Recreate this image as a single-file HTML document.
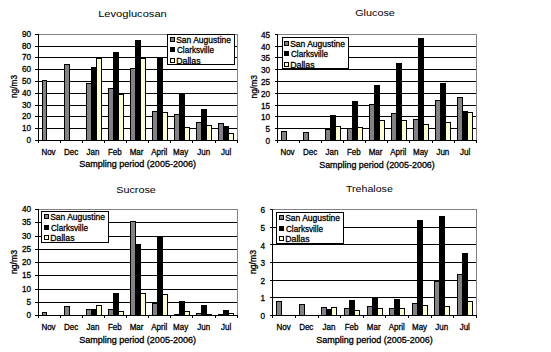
<!DOCTYPE html>
<html><head><meta charset="utf-8"><style>
html,body{margin:0;padding:0;background:#fff;}
body{width:551px;height:352px;overflow:hidden;}
svg{display:block;}
text{font-family:"Liberation Sans", sans-serif;fill:#000;}
text.b{stroke:#000;stroke-width:0.3px;}
</style></head><body>
<svg width="551" height="352" viewBox="0 0 551 352">
<g shape-rendering="crispEdges">
<rect x="0" y="0" width="551" height="352" fill="#fff"/>
</g>
<g shape-rendering="crispEdges">
<rect x="38" y="140" width="200" height="1" fill="#000"/>
<rect x="38" y="128" width="200" height="1" fill="#000"/>
<rect x="38" y="116" width="200" height="1" fill="#000"/>
<rect x="38" y="105" width="200" height="1" fill="#000"/>
<rect x="38" y="93" width="200" height="1" fill="#000"/>
<rect x="38" y="81" width="200" height="1" fill="#000"/>
<rect x="38" y="69" width="200" height="1" fill="#000"/>
<rect x="38" y="57" width="200" height="1" fill="#000"/>
<rect x="38" y="46" width="200" height="1" fill="#000"/>
<rect x="38" y="34" width="200" height="1" fill="#858085"/>
<rect x="237" y="34" width="1" height="107" fill="#858085"/>
<rect x="42" y="80" width="5" height="61" fill="#000"/>
<rect x="43" y="81" width="3" height="59" fill="#858085"/>
<rect x="64" y="64" width="6" height="77" fill="#000"/>
<rect x="65" y="65" width="4" height="75" fill="#858085"/>
<rect x="86" y="83" width="6" height="58" fill="#000"/>
<rect x="87" y="84" width="4" height="56" fill="#858085"/>
<rect x="91" y="67" width="6" height="74" fill="#000"/>
<rect x="96" y="58" width="6" height="83" fill="#000"/>
<rect x="97" y="59" width="4" height="81" fill="#FFFFCC"/>
<rect x="108" y="88" width="6" height="53" fill="#000"/>
<rect x="109" y="89" width="4" height="51" fill="#858085"/>
<rect x="113" y="52" width="6" height="89" fill="#000"/>
<rect x="118" y="94" width="6" height="47" fill="#000"/>
<rect x="119" y="95" width="4" height="45" fill="#FFFFCC"/>
<rect x="130" y="68" width="6" height="73" fill="#000"/>
<rect x="131" y="69" width="4" height="71" fill="#858085"/>
<rect x="135" y="40" width="6" height="101" fill="#000"/>
<rect x="140" y="58" width="6" height="83" fill="#000"/>
<rect x="141" y="59" width="4" height="81" fill="#FFFFCC"/>
<rect x="152" y="111" width="6" height="30" fill="#000"/>
<rect x="153" y="112" width="4" height="28" fill="#858085"/>
<rect x="157" y="58" width="6" height="83" fill="#000"/>
<rect x="162" y="112" width="6" height="29" fill="#000"/>
<rect x="163" y="113" width="4" height="27" fill="#FFFFCC"/>
<rect x="174" y="114" width="6" height="27" fill="#000"/>
<rect x="175" y="115" width="4" height="25" fill="#858085"/>
<rect x="179" y="93" width="6" height="48" fill="#000"/>
<rect x="184" y="127" width="6" height="14" fill="#000"/>
<rect x="185" y="128" width="4" height="12" fill="#FFFFCC"/>
<rect x="196" y="122" width="6" height="19" fill="#000"/>
<rect x="197" y="123" width="4" height="17" fill="#858085"/>
<rect x="201" y="109" width="6" height="32" fill="#000"/>
<rect x="206" y="125" width="6" height="16" fill="#000"/>
<rect x="207" y="126" width="4" height="14" fill="#FFFFCC"/>
<rect x="218" y="123" width="6" height="18" fill="#000"/>
<rect x="219" y="124" width="4" height="16" fill="#858085"/>
<rect x="223" y="126" width="6" height="15" fill="#000"/>
<rect x="228" y="133" width="6" height="8" fill="#000"/>
<rect x="229" y="134" width="4" height="6" fill="#FFFFCC"/>
<rect x="38" y="34" width="1" height="109" fill="#000"/>
<rect x="38" y="140" width="200" height="1" fill="#000"/>
<rect x="35" y="140" width="3" height="1" fill="#000"/>
<rect x="35" y="128" width="3" height="1" fill="#000"/>
<rect x="35" y="116" width="3" height="1" fill="#000"/>
<rect x="35" y="105" width="3" height="1" fill="#000"/>
<rect x="35" y="93" width="3" height="1" fill="#000"/>
<rect x="35" y="81" width="3" height="1" fill="#000"/>
<rect x="35" y="69" width="3" height="1" fill="#000"/>
<rect x="35" y="57" width="3" height="1" fill="#000"/>
<rect x="35" y="46" width="3" height="1" fill="#000"/>
<rect x="35" y="34" width="3" height="1" fill="#000"/>
<rect x="38" y="141" width="1" height="2" fill="#000"/>
<rect x="60" y="141" width="1" height="2" fill="#000"/>
<rect x="82" y="141" width="1" height="2" fill="#000"/>
<rect x="104" y="141" width="1" height="2" fill="#000"/>
<rect x="126" y="141" width="1" height="2" fill="#000"/>
<rect x="148" y="141" width="1" height="2" fill="#000"/>
<rect x="170" y="141" width="1" height="2" fill="#000"/>
<rect x="192" y="141" width="1" height="2" fill="#000"/>
<rect x="215" y="141" width="1" height="2" fill="#000"/>
<rect x="237" y="141" width="1" height="2" fill="#000"/>
<rect x="167" y="34" width="68" height="31" fill="#000"/>
<rect x="168" y="35" width="66" height="29" fill="#fff"/>
<rect x="170" y="37" width="5" height="5" fill="#000"/>
<rect x="171" y="38" width="3" height="3" fill="#858085"/>
<rect x="170" y="47" width="5" height="5" fill="#000"/>
<rect x="170" y="58" width="5" height="5" fill="#000"/>
<rect x="171" y="59" width="3" height="3" fill="#FFFFCC"/>
<rect x="277" y="140" width="200" height="1" fill="#000"/>
<rect x="277" y="128" width="200" height="1" fill="#000"/>
<rect x="277" y="116" width="200" height="1" fill="#000"/>
<rect x="277" y="105" width="200" height="1" fill="#000"/>
<rect x="277" y="93" width="200" height="1" fill="#000"/>
<rect x="277" y="81" width="200" height="1" fill="#000"/>
<rect x="277" y="69" width="200" height="1" fill="#000"/>
<rect x="277" y="57" width="200" height="1" fill="#000"/>
<rect x="277" y="46" width="200" height="1" fill="#000"/>
<rect x="277" y="34" width="200" height="1" fill="#858085"/>
<rect x="476" y="34" width="1" height="107" fill="#858085"/>
<rect x="281" y="131" width="6" height="10" fill="#000"/>
<rect x="282" y="132" width="4" height="8" fill="#858085"/>
<rect x="303" y="132" width="6" height="9" fill="#000"/>
<rect x="304" y="133" width="4" height="7" fill="#858085"/>
<rect x="325" y="129" width="6" height="12" fill="#000"/>
<rect x="326" y="130" width="4" height="10" fill="#858085"/>
<rect x="330" y="115" width="6" height="26" fill="#000"/>
<rect x="335" y="126" width="6" height="15" fill="#000"/>
<rect x="336" y="127" width="4" height="13" fill="#FFFFCC"/>
<rect x="347" y="128" width="6" height="13" fill="#000"/>
<rect x="348" y="129" width="4" height="11" fill="#858085"/>
<rect x="352" y="101" width="6" height="40" fill="#000"/>
<rect x="357" y="127" width="6" height="14" fill="#000"/>
<rect x="358" y="128" width="4" height="12" fill="#FFFFCC"/>
<rect x="369" y="104" width="6" height="37" fill="#000"/>
<rect x="370" y="105" width="4" height="35" fill="#858085"/>
<rect x="374" y="85" width="6" height="56" fill="#000"/>
<rect x="379" y="120" width="6" height="21" fill="#000"/>
<rect x="380" y="121" width="4" height="19" fill="#FFFFCC"/>
<rect x="391" y="113" width="6" height="28" fill="#000"/>
<rect x="392" y="114" width="4" height="26" fill="#858085"/>
<rect x="396" y="63" width="6" height="78" fill="#000"/>
<rect x="401" y="120" width="6" height="21" fill="#000"/>
<rect x="402" y="121" width="4" height="19" fill="#FFFFCC"/>
<rect x="413" y="119" width="6" height="22" fill="#000"/>
<rect x="414" y="120" width="4" height="20" fill="#858085"/>
<rect x="418" y="38" width="6" height="103" fill="#000"/>
<rect x="423" y="124" width="6" height="17" fill="#000"/>
<rect x="424" y="125" width="4" height="15" fill="#FFFFCC"/>
<rect x="435" y="100" width="6" height="41" fill="#000"/>
<rect x="436" y="101" width="4" height="39" fill="#858085"/>
<rect x="440" y="83" width="6" height="58" fill="#000"/>
<rect x="445" y="122" width="6" height="19" fill="#000"/>
<rect x="446" y="123" width="4" height="17" fill="#FFFFCC"/>
<rect x="457" y="97" width="6" height="44" fill="#000"/>
<rect x="458" y="98" width="4" height="42" fill="#858085"/>
<rect x="462" y="111" width="6" height="30" fill="#000"/>
<rect x="467" y="112" width="6" height="29" fill="#000"/>
<rect x="468" y="113" width="4" height="27" fill="#FFFFCC"/>
<rect x="277" y="34" width="1" height="109" fill="#000"/>
<rect x="277" y="140" width="200" height="1" fill="#000"/>
<rect x="275" y="140" width="2" height="1" fill="#000"/>
<rect x="275" y="128" width="2" height="1" fill="#000"/>
<rect x="275" y="116" width="2" height="1" fill="#000"/>
<rect x="275" y="105" width="2" height="1" fill="#000"/>
<rect x="275" y="93" width="2" height="1" fill="#000"/>
<rect x="275" y="81" width="2" height="1" fill="#000"/>
<rect x="275" y="69" width="2" height="1" fill="#000"/>
<rect x="275" y="57" width="2" height="1" fill="#000"/>
<rect x="275" y="46" width="2" height="1" fill="#000"/>
<rect x="275" y="34" width="2" height="1" fill="#000"/>
<rect x="277" y="141" width="1" height="2" fill="#000"/>
<rect x="299" y="141" width="1" height="2" fill="#000"/>
<rect x="321" y="141" width="1" height="2" fill="#000"/>
<rect x="343" y="141" width="1" height="2" fill="#000"/>
<rect x="365" y="141" width="1" height="2" fill="#000"/>
<rect x="387" y="141" width="1" height="2" fill="#000"/>
<rect x="409" y="141" width="1" height="2" fill="#000"/>
<rect x="432" y="141" width="1" height="2" fill="#000"/>
<rect x="454" y="141" width="1" height="2" fill="#000"/>
<rect x="476" y="141" width="1" height="2" fill="#000"/>
<rect x="282" y="37" width="67" height="32" fill="#000"/>
<rect x="283" y="38" width="65" height="30" fill="#fff"/>
<rect x="284" y="41" width="5" height="5" fill="#000"/>
<rect x="285" y="42" width="3" height="3" fill="#858085"/>
<rect x="284" y="51" width="5" height="5" fill="#000"/>
<rect x="284" y="62" width="5" height="5" fill="#000"/>
<rect x="285" y="63" width="3" height="3" fill="#FFFFCC"/>
<rect x="38" y="315" width="200" height="1" fill="#000"/>
<rect x="38" y="302" width="200" height="1" fill="#000"/>
<rect x="38" y="289" width="200" height="1" fill="#000"/>
<rect x="38" y="275" width="200" height="1" fill="#000"/>
<rect x="38" y="262" width="200" height="1" fill="#000"/>
<rect x="38" y="249" width="200" height="1" fill="#000"/>
<rect x="38" y="236" width="200" height="1" fill="#000"/>
<rect x="38" y="222" width="200" height="1" fill="#000"/>
<rect x="38" y="209" width="200" height="1" fill="#858085"/>
<rect x="237" y="209" width="1" height="107" fill="#858085"/>
<rect x="42" y="312" width="5" height="4" fill="#000"/>
<rect x="43" y="313" width="3" height="2" fill="#858085"/>
<rect x="64" y="306" width="6" height="10" fill="#000"/>
<rect x="65" y="307" width="4" height="8" fill="#858085"/>
<rect x="86" y="309" width="6" height="7" fill="#000"/>
<rect x="87" y="310" width="4" height="5" fill="#858085"/>
<rect x="91" y="309" width="6" height="7" fill="#000"/>
<rect x="96" y="305" width="6" height="11" fill="#000"/>
<rect x="97" y="306" width="4" height="9" fill="#FFFFCC"/>
<rect x="108" y="309" width="6" height="7" fill="#000"/>
<rect x="109" y="310" width="4" height="5" fill="#858085"/>
<rect x="113" y="293" width="6" height="23" fill="#000"/>
<rect x="118" y="311" width="6" height="5" fill="#000"/>
<rect x="119" y="312" width="4" height="3" fill="#FFFFCC"/>
<rect x="130" y="221" width="6" height="95" fill="#000"/>
<rect x="131" y="222" width="4" height="93" fill="#858085"/>
<rect x="135" y="244" width="6" height="72" fill="#000"/>
<rect x="140" y="293" width="6" height="23" fill="#000"/>
<rect x="141" y="294" width="4" height="21" fill="#FFFFCC"/>
<rect x="152" y="303" width="6" height="13" fill="#000"/>
<rect x="153" y="304" width="4" height="11" fill="#858085"/>
<rect x="157" y="237" width="6" height="79" fill="#000"/>
<rect x="162" y="294" width="6" height="22" fill="#000"/>
<rect x="163" y="295" width="4" height="20" fill="#FFFFCC"/>
<rect x="174" y="314" width="6" height="2" fill="#000"/>
<rect x="179" y="301" width="6" height="15" fill="#000"/>
<rect x="184" y="311" width="6" height="5" fill="#000"/>
<rect x="185" y="312" width="4" height="3" fill="#FFFFCC"/>
<rect x="196" y="313" width="6" height="3" fill="#000"/>
<rect x="197" y="314" width="4" height="1" fill="#858085"/>
<rect x="201" y="305" width="6" height="11" fill="#000"/>
<rect x="206" y="314" width="6" height="2" fill="#000"/>
<rect x="218" y="314" width="6" height="2" fill="#000"/>
<rect x="223" y="310" width="6" height="6" fill="#000"/>
<rect x="228" y="313" width="6" height="3" fill="#000"/>
<rect x="229" y="314" width="4" height="1" fill="#FFFFCC"/>
<rect x="38" y="209" width="1" height="109" fill="#000"/>
<rect x="38" y="315" width="200" height="1" fill="#000"/>
<rect x="35" y="315" width="3" height="1" fill="#000"/>
<rect x="35" y="302" width="3" height="1" fill="#000"/>
<rect x="35" y="289" width="3" height="1" fill="#000"/>
<rect x="35" y="275" width="3" height="1" fill="#000"/>
<rect x="35" y="262" width="3" height="1" fill="#000"/>
<rect x="35" y="249" width="3" height="1" fill="#000"/>
<rect x="35" y="236" width="3" height="1" fill="#000"/>
<rect x="35" y="222" width="3" height="1" fill="#000"/>
<rect x="35" y="209" width="3" height="1" fill="#000"/>
<rect x="38" y="316" width="1" height="2" fill="#000"/>
<rect x="60" y="316" width="1" height="2" fill="#000"/>
<rect x="82" y="316" width="1" height="2" fill="#000"/>
<rect x="104" y="316" width="1" height="2" fill="#000"/>
<rect x="126" y="316" width="1" height="2" fill="#000"/>
<rect x="148" y="316" width="1" height="2" fill="#000"/>
<rect x="170" y="316" width="1" height="2" fill="#000"/>
<rect x="192" y="316" width="1" height="2" fill="#000"/>
<rect x="215" y="316" width="1" height="2" fill="#000"/>
<rect x="237" y="316" width="1" height="2" fill="#000"/>
<rect x="41" y="211" width="68" height="32" fill="#000"/>
<rect x="42" y="212" width="66" height="30" fill="#fff"/>
<rect x="44" y="214" width="5" height="5" fill="#000"/>
<rect x="45" y="215" width="3" height="3" fill="#858085"/>
<rect x="44" y="225" width="5" height="5" fill="#000"/>
<rect x="44" y="235" width="5" height="5" fill="#000"/>
<rect x="45" y="236" width="3" height="3" fill="#FFFFCC"/>
<rect x="272" y="315" width="205" height="1" fill="#000"/>
<rect x="272" y="297" width="205" height="1" fill="#000"/>
<rect x="272" y="280" width="205" height="1" fill="#000"/>
<rect x="272" y="262" width="205" height="1" fill="#000"/>
<rect x="272" y="244" width="205" height="1" fill="#000"/>
<rect x="272" y="227" width="205" height="1" fill="#000"/>
<rect x="272" y="209" width="205" height="1" fill="#858085"/>
<rect x="476" y="209" width="1" height="107" fill="#858085"/>
<rect x="276" y="301" width="6" height="15" fill="#000"/>
<rect x="277" y="302" width="4" height="13" fill="#858085"/>
<rect x="299" y="304" width="6" height="12" fill="#000"/>
<rect x="300" y="305" width="4" height="10" fill="#858085"/>
<rect x="321" y="307" width="6" height="9" fill="#000"/>
<rect x="322" y="308" width="4" height="7" fill="#858085"/>
<rect x="326" y="309" width="6" height="7" fill="#000"/>
<rect x="331" y="307" width="6" height="9" fill="#000"/>
<rect x="332" y="308" width="4" height="7" fill="#FFFFCC"/>
<rect x="344" y="308" width="6" height="8" fill="#000"/>
<rect x="345" y="309" width="4" height="6" fill="#858085"/>
<rect x="349" y="300" width="6" height="16" fill="#000"/>
<rect x="354" y="310" width="6" height="6" fill="#000"/>
<rect x="355" y="311" width="4" height="4" fill="#FFFFCC"/>
<rect x="367" y="306" width="6" height="10" fill="#000"/>
<rect x="368" y="307" width="4" height="8" fill="#858085"/>
<rect x="372" y="297" width="6" height="19" fill="#000"/>
<rect x="377" y="308" width="6" height="8" fill="#000"/>
<rect x="378" y="309" width="4" height="6" fill="#FFFFCC"/>
<rect x="389" y="308" width="6" height="8" fill="#000"/>
<rect x="390" y="309" width="4" height="6" fill="#858085"/>
<rect x="394" y="299" width="6" height="17" fill="#000"/>
<rect x="399" y="308" width="6" height="8" fill="#000"/>
<rect x="400" y="309" width="4" height="6" fill="#FFFFCC"/>
<rect x="412" y="303" width="6" height="13" fill="#000"/>
<rect x="413" y="304" width="4" height="11" fill="#858085"/>
<rect x="417" y="220" width="6" height="96" fill="#000"/>
<rect x="422" y="305" width="6" height="11" fill="#000"/>
<rect x="423" y="306" width="4" height="9" fill="#FFFFCC"/>
<rect x="434" y="281" width="6" height="35" fill="#000"/>
<rect x="435" y="282" width="4" height="33" fill="#858085"/>
<rect x="439" y="216" width="6" height="100" fill="#000"/>
<rect x="444" y="306" width="6" height="10" fill="#000"/>
<rect x="445" y="307" width="4" height="8" fill="#FFFFCC"/>
<rect x="457" y="274" width="6" height="42" fill="#000"/>
<rect x="458" y="275" width="4" height="40" fill="#858085"/>
<rect x="462" y="253" width="6" height="63" fill="#000"/>
<rect x="467" y="301" width="6" height="15" fill="#000"/>
<rect x="468" y="302" width="4" height="13" fill="#FFFFCC"/>
<rect x="272" y="209" width="1" height="109" fill="#000"/>
<rect x="272" y="315" width="205" height="1" fill="#000"/>
<rect x="270" y="315" width="2" height="1" fill="#000"/>
<rect x="270" y="297" width="2" height="1" fill="#000"/>
<rect x="270" y="280" width="2" height="1" fill="#000"/>
<rect x="270" y="262" width="2" height="1" fill="#000"/>
<rect x="270" y="244" width="2" height="1" fill="#000"/>
<rect x="270" y="227" width="2" height="1" fill="#000"/>
<rect x="270" y="209" width="2" height="1" fill="#000"/>
<rect x="272" y="316" width="1" height="2" fill="#000"/>
<rect x="295" y="316" width="1" height="2" fill="#000"/>
<rect x="318" y="316" width="1" height="2" fill="#000"/>
<rect x="340" y="316" width="1" height="2" fill="#000"/>
<rect x="363" y="316" width="1" height="2" fill="#000"/>
<rect x="385" y="316" width="1" height="2" fill="#000"/>
<rect x="408" y="316" width="1" height="2" fill="#000"/>
<rect x="431" y="316" width="1" height="2" fill="#000"/>
<rect x="453" y="316" width="1" height="2" fill="#000"/>
<rect x="476" y="316" width="1" height="2" fill="#000"/>
<rect x="276" y="212" width="68" height="32" fill="#000"/>
<rect x="277" y="213" width="66" height="30" fill="#fff"/>
<rect x="279" y="215" width="5" height="5" fill="#000"/>
<rect x="280" y="216" width="3" height="3" fill="#858085"/>
<rect x="279" y="226" width="5" height="5" fill="#000"/>
<rect x="279" y="236" width="5" height="5" fill="#000"/>
<rect x="280" y="237" width="3" height="3" fill="#FFFFCC"/>
<text x="98.20" y="16.81" font-size="9.9" textLength="68.60" lengthAdjust="spacingAndGlyphs">Levoglucosan</text>
<text class="b" x="79.20" y="166.99" font-size="8.7" textLength="116.80" lengthAdjust="spacingAndGlyphs">Sampling period (2005-2006)</text>
<text class="b" transform="translate(16.62,98.00) rotate(-90)" font-size="8.7" textLength="23.00" lengthAdjust="spacingAndGlyphs">ng/m3</text>
<text class="b" x="48.51" y="154.99" font-size="8.7" text-anchor="middle" textLength="14.23" lengthAdjust="spacingAndGlyphs">Nov</text>
<text class="b" x="71.13" y="154.99" font-size="8.7" text-anchor="middle" textLength="14.23" lengthAdjust="spacingAndGlyphs">Dec</text>
<text class="b" x="92.96" y="154.99" font-size="8.7" text-anchor="middle" textLength="12.90" lengthAdjust="spacingAndGlyphs">Jan</text>
<text class="b" x="114.78" y="154.99" font-size="8.7" text-anchor="middle" textLength="13.79" lengthAdjust="spacingAndGlyphs">Feb</text>
<text class="b" x="136.60" y="154.99" font-size="8.7" text-anchor="middle" textLength="13.78" lengthAdjust="spacingAndGlyphs">Mar</text>
<text class="b" x="159.22" y="154.99" font-size="8.7" text-anchor="middle" textLength="16.00" lengthAdjust="spacingAndGlyphs">April</text>
<text class="b" x="180.64" y="154.99" font-size="8.7" text-anchor="middle" textLength="15.11" lengthAdjust="spacingAndGlyphs">May</text>
<text class="b" x="203.77" y="154.99" font-size="8.7" text-anchor="middle" textLength="12.90" lengthAdjust="spacingAndGlyphs">Jun</text>
<text class="b" x="226.09" y="154.99" font-size="8.7" text-anchor="middle" textLength="10.23" lengthAdjust="spacingAndGlyphs">Jul</text>
<text class="b" x="31.00" y="142.99" font-size="8.7" text-anchor="end" textLength="4.56" lengthAdjust="spacingAndGlyphs">0</text>
<text class="b" x="31.00" y="130.99" font-size="8.7" text-anchor="end" textLength="9.12" lengthAdjust="spacingAndGlyphs">10</text>
<text class="b" x="31.00" y="118.99" font-size="8.7" text-anchor="end" textLength="9.12" lengthAdjust="spacingAndGlyphs">20</text>
<text class="b" x="31.00" y="107.99" font-size="8.7" text-anchor="end" textLength="9.12" lengthAdjust="spacingAndGlyphs">30</text>
<text class="b" x="31.00" y="95.99" font-size="8.7" text-anchor="end" textLength="9.12" lengthAdjust="spacingAndGlyphs">40</text>
<text class="b" x="31.00" y="83.99" font-size="8.7" text-anchor="end" textLength="9.12" lengthAdjust="spacingAndGlyphs">50</text>
<text class="b" x="31.00" y="71.99" font-size="8.7" text-anchor="end" textLength="9.12" lengthAdjust="spacingAndGlyphs">60</text>
<text class="b" x="31.00" y="59.99" font-size="8.7" text-anchor="end" textLength="9.12" lengthAdjust="spacingAndGlyphs">70</text>
<text class="b" x="31.00" y="48.99" font-size="8.7" text-anchor="end" textLength="9.12" lengthAdjust="spacingAndGlyphs">80</text>
<text class="b" x="31.00" y="36.99" font-size="8.7" text-anchor="end" textLength="9.12" lengthAdjust="spacingAndGlyphs">90</text>
<text class="b" x="176.20" y="42.99" font-size="8.7" textLength="54.80" lengthAdjust="spacingAndGlyphs">San Augustine</text>
<text class="b" x="177.00" y="52.99" font-size="8.7" textLength="37.00" lengthAdjust="spacingAndGlyphs">Clarksville</text>
<text class="b" x="176.20" y="63.99" font-size="8.7" textLength="24.34" lengthAdjust="spacingAndGlyphs">Dallas</text>
<text x="355.20" y="15.81" font-size="9.9" textLength="39.60" lengthAdjust="spacingAndGlyphs">Glucose</text>
<text class="b" x="319.20" y="167.99" font-size="8.7" textLength="115.60" lengthAdjust="spacingAndGlyphs">Sampling period (2005-2006)</text>
<text class="b" transform="translate(256.82,98.54) rotate(-90)" font-size="8.7" textLength="23.54" lengthAdjust="spacingAndGlyphs">ng/m3</text>
<text class="b" x="287.51" y="154.99" font-size="8.7" text-anchor="middle" textLength="14.23" lengthAdjust="spacingAndGlyphs">Nov</text>
<text class="b" x="310.13" y="154.99" font-size="8.7" text-anchor="middle" textLength="14.23" lengthAdjust="spacingAndGlyphs">Dec</text>
<text class="b" x="331.96" y="154.99" font-size="8.7" text-anchor="middle" textLength="12.90" lengthAdjust="spacingAndGlyphs">Jan</text>
<text class="b" x="353.78" y="154.99" font-size="8.7" text-anchor="middle" textLength="13.79" lengthAdjust="spacingAndGlyphs">Feb</text>
<text class="b" x="375.60" y="154.99" font-size="8.7" text-anchor="middle" textLength="13.78" lengthAdjust="spacingAndGlyphs">Mar</text>
<text class="b" x="398.22" y="154.99" font-size="8.7" text-anchor="middle" textLength="16.00" lengthAdjust="spacingAndGlyphs">April</text>
<text class="b" x="420.54" y="154.99" font-size="8.7" text-anchor="middle" textLength="15.11" lengthAdjust="spacingAndGlyphs">May</text>
<text class="b" x="442.87" y="154.99" font-size="8.7" text-anchor="middle" textLength="12.90" lengthAdjust="spacingAndGlyphs">Jun</text>
<text class="b" x="465.09" y="154.99" font-size="8.7" text-anchor="middle" textLength="10.23" lengthAdjust="spacingAndGlyphs">Jul</text>
<text class="b" x="270.00" y="143.99" font-size="8.7" text-anchor="end" textLength="4.56" lengthAdjust="spacingAndGlyphs">0</text>
<text class="b" x="270.00" y="131.99" font-size="8.7" text-anchor="end" textLength="4.56" lengthAdjust="spacingAndGlyphs">5</text>
<text class="b" x="270.00" y="119.99" font-size="8.7" text-anchor="end" textLength="9.12" lengthAdjust="spacingAndGlyphs">10</text>
<text class="b" x="270.00" y="108.99" font-size="8.7" text-anchor="end" textLength="9.12" lengthAdjust="spacingAndGlyphs">15</text>
<text class="b" x="270.00" y="96.99" font-size="8.7" text-anchor="end" textLength="9.12" lengthAdjust="spacingAndGlyphs">20</text>
<text class="b" x="270.00" y="84.99" font-size="8.7" text-anchor="end" textLength="9.12" lengthAdjust="spacingAndGlyphs">25</text>
<text class="b" x="270.00" y="72.99" font-size="8.7" text-anchor="end" textLength="9.12" lengthAdjust="spacingAndGlyphs">30</text>
<text class="b" x="270.00" y="60.99" font-size="8.7" text-anchor="end" textLength="9.12" lengthAdjust="spacingAndGlyphs">35</text>
<text class="b" x="270.00" y="49.99" font-size="8.7" text-anchor="end" textLength="9.12" lengthAdjust="spacingAndGlyphs">40</text>
<text class="b" x="270.00" y="37.99" font-size="8.7" text-anchor="end" textLength="9.12" lengthAdjust="spacingAndGlyphs">45</text>
<text class="b" x="290.20" y="46.99" font-size="8.7" textLength="54.80" lengthAdjust="spacingAndGlyphs">San Augustine</text>
<text class="b" x="291.00" y="56.99" font-size="8.7" textLength="37.00" lengthAdjust="spacingAndGlyphs">Clarksville</text>
<text class="b" x="290.20" y="67.99" font-size="8.7" textLength="24.34" lengthAdjust="spacingAndGlyphs">Dallas</text>
<text x="116.20" y="192.81" font-size="9.9" textLength="39.60" lengthAdjust="spacingAndGlyphs">Sucrose</text>
<text class="b" x="79.20" y="342.99" font-size="8.7" textLength="116.80" lengthAdjust="spacingAndGlyphs">Sampling period (2005-2006)</text>
<text class="b" transform="translate(16.76,274.00) rotate(-90)" font-size="8.7" textLength="24.00" lengthAdjust="spacingAndGlyphs">ng/m3</text>
<text class="b" x="48.51" y="329.99" font-size="8.7" text-anchor="middle" textLength="14.23" lengthAdjust="spacingAndGlyphs">Nov</text>
<text class="b" x="71.13" y="329.99" font-size="8.7" text-anchor="middle" textLength="14.23" lengthAdjust="spacingAndGlyphs">Dec</text>
<text class="b" x="92.96" y="329.99" font-size="8.7" text-anchor="middle" textLength="12.90" lengthAdjust="spacingAndGlyphs">Jan</text>
<text class="b" x="114.78" y="329.99" font-size="8.7" text-anchor="middle" textLength="13.79" lengthAdjust="spacingAndGlyphs">Feb</text>
<text class="b" x="136.60" y="329.99" font-size="8.7" text-anchor="middle" textLength="13.78" lengthAdjust="spacingAndGlyphs">Mar</text>
<text class="b" x="159.22" y="329.99" font-size="8.7" text-anchor="middle" textLength="16.00" lengthAdjust="spacingAndGlyphs">April</text>
<text class="b" x="180.64" y="329.99" font-size="8.7" text-anchor="middle" textLength="15.11" lengthAdjust="spacingAndGlyphs">May</text>
<text class="b" x="203.77" y="329.99" font-size="8.7" text-anchor="middle" textLength="12.90" lengthAdjust="spacingAndGlyphs">Jun</text>
<text class="b" x="226.09" y="329.99" font-size="8.7" text-anchor="middle" textLength="10.23" lengthAdjust="spacingAndGlyphs">Jul</text>
<text class="b" x="31.00" y="317.99" font-size="8.7" text-anchor="end" textLength="4.56" lengthAdjust="spacingAndGlyphs">0</text>
<text class="b" x="31.00" y="304.99" font-size="8.7" text-anchor="end" textLength="4.56" lengthAdjust="spacingAndGlyphs">5</text>
<text class="b" x="31.00" y="291.99" font-size="8.7" text-anchor="end" textLength="9.12" lengthAdjust="spacingAndGlyphs">10</text>
<text class="b" x="31.00" y="277.99" font-size="8.7" text-anchor="end" textLength="9.12" lengthAdjust="spacingAndGlyphs">15</text>
<text class="b" x="31.00" y="264.99" font-size="8.7" text-anchor="end" textLength="9.12" lengthAdjust="spacingAndGlyphs">20</text>
<text class="b" x="31.00" y="251.99" font-size="8.7" text-anchor="end" textLength="9.12" lengthAdjust="spacingAndGlyphs">25</text>
<text class="b" x="31.00" y="238.99" font-size="8.7" text-anchor="end" textLength="9.12" lengthAdjust="spacingAndGlyphs">30</text>
<text class="b" x="31.00" y="224.99" font-size="8.7" text-anchor="end" textLength="9.12" lengthAdjust="spacingAndGlyphs">35</text>
<text class="b" x="31.00" y="211.99" font-size="8.7" text-anchor="end" textLength="9.12" lengthAdjust="spacingAndGlyphs">40</text>
<text class="b" x="50.20" y="219.99" font-size="8.7" textLength="54.80" lengthAdjust="spacingAndGlyphs">San Augustine</text>
<text class="b" x="51.00" y="230.99" font-size="8.7" textLength="37.00" lengthAdjust="spacingAndGlyphs">Clarksville</text>
<text class="b" x="50.20" y="240.99" font-size="8.7" textLength="24.34" lengthAdjust="spacingAndGlyphs">Dallas</text>
<text x="346.00" y="191.81" font-size="9.9" textLength="46.80" lengthAdjust="spacingAndGlyphs">Trehalose</text>
<text class="b" x="316.20" y="342.99" font-size="8.7" textLength="116.60" lengthAdjust="spacingAndGlyphs">Sampling period (2005-2006)</text>
<text class="b" transform="translate(256.22,274.00) rotate(-90)" font-size="8.7" textLength="24.00" lengthAdjust="spacingAndGlyphs">ng/m3</text>
<text class="b" x="283.53" y="329.99" font-size="8.7" text-anchor="middle" textLength="14.23" lengthAdjust="spacingAndGlyphs">Nov</text>
<text class="b" x="306.26" y="329.99" font-size="8.7" text-anchor="middle" textLength="14.23" lengthAdjust="spacingAndGlyphs">Dec</text>
<text class="b" x="328.89" y="329.99" font-size="8.7" text-anchor="middle" textLength="12.90" lengthAdjust="spacingAndGlyphs">Jan</text>
<text class="b" x="351.53" y="329.99" font-size="8.7" text-anchor="middle" textLength="13.79" lengthAdjust="spacingAndGlyphs">Feb</text>
<text class="b" x="373.76" y="329.99" font-size="8.7" text-anchor="middle" textLength="13.78" lengthAdjust="spacingAndGlyphs">Mar</text>
<text class="b" x="396.79" y="329.99" font-size="8.7" text-anchor="middle" textLength="16.00" lengthAdjust="spacingAndGlyphs">April</text>
<text class="b" x="419.53" y="329.99" font-size="8.7" text-anchor="middle" textLength="15.11" lengthAdjust="spacingAndGlyphs">May</text>
<text class="b" x="441.76" y="329.99" font-size="8.7" text-anchor="middle" textLength="12.90" lengthAdjust="spacingAndGlyphs">Jun</text>
<text class="b" x="464.79" y="329.99" font-size="8.7" text-anchor="middle" textLength="10.23" lengthAdjust="spacingAndGlyphs">Jul</text>
<text class="b" x="265.00" y="318.99" font-size="8.7" text-anchor="end" textLength="4.56" lengthAdjust="spacingAndGlyphs">0</text>
<text class="b" x="265.00" y="300.99" font-size="8.7" text-anchor="end" textLength="4.56" lengthAdjust="spacingAndGlyphs">1</text>
<text class="b" x="265.00" y="283.99" font-size="8.7" text-anchor="end" textLength="4.56" lengthAdjust="spacingAndGlyphs">2</text>
<text class="b" x="265.00" y="265.99" font-size="8.7" text-anchor="end" textLength="4.56" lengthAdjust="spacingAndGlyphs">3</text>
<text class="b" x="265.00" y="248.79" font-size="8.7" text-anchor="end" textLength="4.56" lengthAdjust="spacingAndGlyphs">4</text>
<text class="b" x="265.00" y="230.99" font-size="8.7" text-anchor="end" textLength="4.56" lengthAdjust="spacingAndGlyphs">5</text>
<text class="b" x="265.00" y="212.99" font-size="8.7" text-anchor="end" textLength="4.56" lengthAdjust="spacingAndGlyphs">6</text>
<text class="b" x="285.20" y="220.99" font-size="8.7" textLength="54.80" lengthAdjust="spacingAndGlyphs">San Augustine</text>
<text class="b" x="286.00" y="231.99" font-size="8.7" textLength="37.00" lengthAdjust="spacingAndGlyphs">Clarksville</text>
<text class="b" x="285.20" y="241.99" font-size="8.7" textLength="24.34" lengthAdjust="spacingAndGlyphs">Dallas</text>
</g>
</svg>
</body></html>
